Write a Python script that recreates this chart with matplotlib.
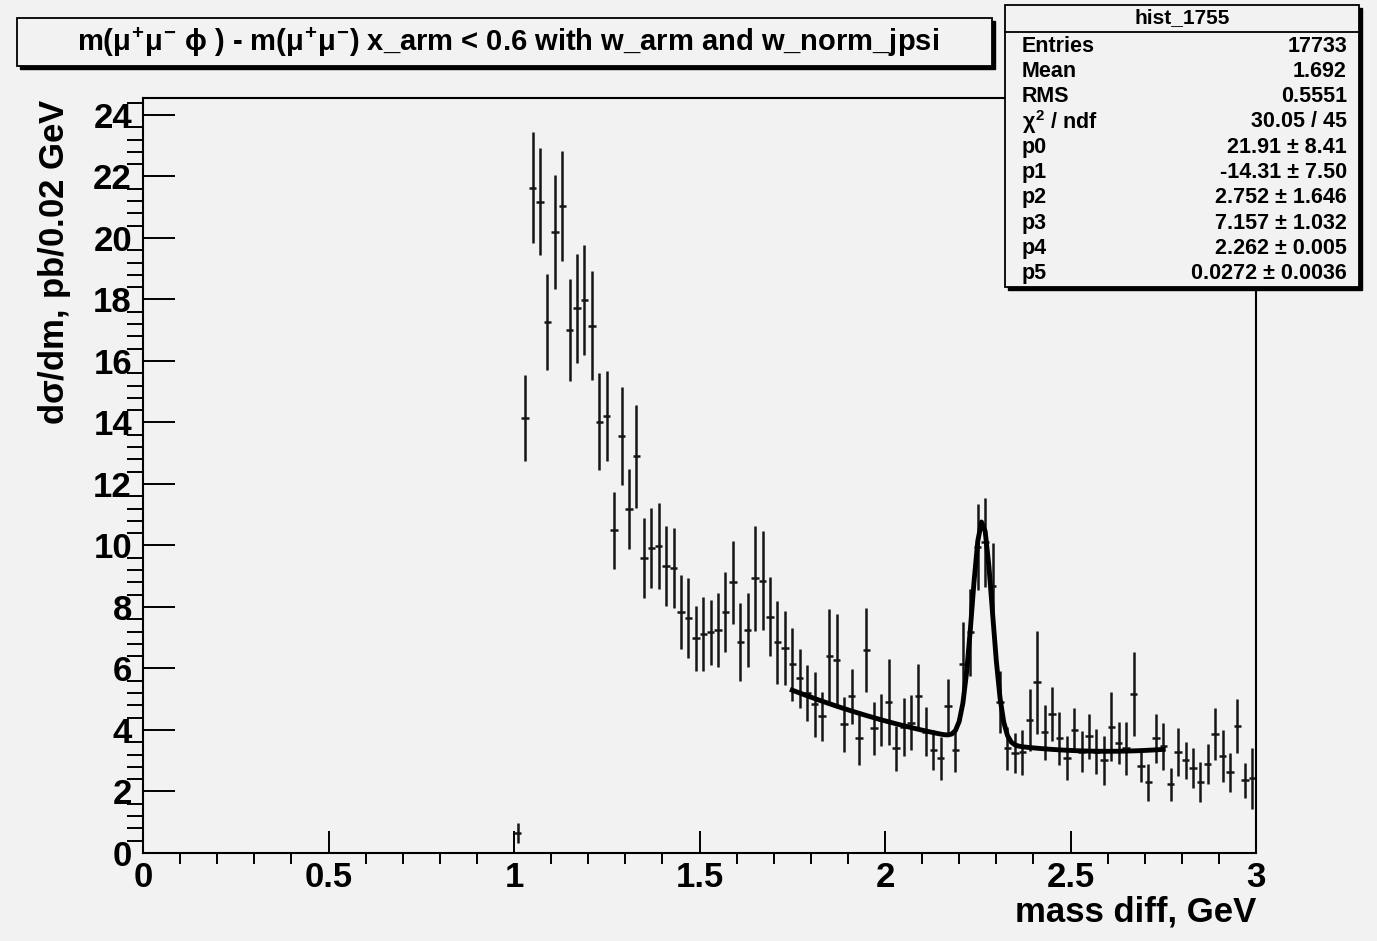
import matplotlib
matplotlib.use("Agg")
import matplotlib.pyplot as plt
from matplotlib.patches import Rectangle
from matplotlib.ticker import MultipleLocator, FuncFormatter
import numpy as np

# histogram: 0.02 GeV bins, only the filled range 1.00 - 3.00 is drawn
bin_width = 0.02
bin_centres = [round(1.01 + bin_width * i, 2) for i in range(100)]
counts = [
    0.65, 14.15, 21.63, 21.18, 17.27, 20.2, 21.04, 17.0, 17.71, 17.98,
    17.14, 14.02, 14.21, 10.5, 13.56, 11.2, 12.9, 9.58, 9.91, 9.97,
    9.33, 9.28, 7.83, 7.63, 6.98, 7.11, 7.17, 7.24, 7.83, 8.8,
    6.85, 7.24, 8.93, 8.86, 7.69, 6.85, 6.66, 6.13, 5.68, 5.2,
    4.83, 4.44, 6.4, 6.26, 4.18, 5.09, 3.73, 6.59, 4.05, 4.33,
    4.9, 3.4, 4.1, 4.24, 5.09, 3.94, 3.34, 3.08, 4.77, 3.34,
    6.15, 7.17, 9.96, 10.1, 8.68, 4.91, 3.4, 3.24, 3.27, 4.33,
    5.55, 3.92, 4.51, 3.73, 3.08, 4.0, 3.3, 3.79, 3.3, 3.02,
    4.11, 3.59, 3.4, 5.16, 2.83, 2.3, 3.73, 3.47, 2.23, 3.27,
    3.02, 2.75, 2.3, 2.88, 3.86, 3.15, 2.62, 4.13, 2.36, 2.43,
]
errors = [
    0.33, 1.4, 1.8, 1.75, 1.55, 1.85, 1.8, 1.65, 1.78, 1.8,
    1.77, 1.58, 1.45, 1.25, 1.6, 1.3, 1.68, 1.3, 1.3, 1.4,
    1.3, 1.3, 1.2, 1.3, 1.05, 1.2, 1.07, 1.2, 1.3, 1.35,
    1.27, 1.2, 1.7, 1.6, 1.27, 1.35, 1.2, 1.2, 0.95, 0.9,
    1.07, 0.8, 1.53, 1.5, 0.9, 0.9, 0.88, 1.37, 0.85, 0.85,
    1.4, 0.72, 0.95, 0.9, 1.06, 0.8, 0.65, 0.7, 0.9, 0.7,
    1.35, 1.4, 1.4, 1.45, 1.4, 1.0, 0.7, 0.65, 0.73, 1.0,
    1.68, 0.9, 0.88, 0.87, 0.72, 0.72, 0.68, 0.73, 0.72, 0.8,
    1.12, 0.68, 0.85, 1.37, 0.52, 0.6, 0.8, 0.77, 0.55, 0.78,
    0.6, 0.65, 0.65, 0.65, 0.85, 0.84, 0.63, 0.87, 0.58, 1.0,
]

# fit: pol2 + gaus, parameters as printed in the stats box
fit_params = [21.91, -14.31, 2.752, 7.157, 2.262, 0.0272]
fit_range = (1.75, 2.75)

stat_names = ["Entries", "Mean", "RMS", r"$\chi^{2}$ / ndf",
              "p0", "p1", "p2", "p3", "p4", "p5"]
stat_values = ["17733", "1.692", "0.5551", "30.05 / 45",
               "21.91 ± 8.41", "-14.31 ± 7.50", "2.752 ± 1.646",
               "7.157 ± 1.032", "2.262 ± 0.005", "0.0272 ± 0.0036"]

title = (r"m($\mu^{+}\mu^{\mathrm{-}}$ $\phi$ ) - m($\mu^{+}\mu^{\mathrm{-}}$) "
         "x_arm < 0.6 with w_arm and w_norm_jpsi")

BG = "#f2f2f2"
W, H = 1377, 941

plt.rcParams["font.family"] = ["Liberation Sans", "DejaVu Sans"]
plt.rcParams["font.weight"] = "bold"
plt.rcParams["mathtext.fontset"] = "custom"
plt.rcParams["mathtext.rm"] = "Liberation Sans:bold"
plt.rcParams["mathtext.it"] = "Liberation Sans:bold"
plt.rcParams["mathtext.bf"] = "Liberation Sans:bold"

fig = plt.figure(figsize=(W / 100, H / 100), dpi=100, facecolor=BG)
ax = fig.add_axes([143 / W, 1 - 853 / H, (1256 - 143) / W, (853 - 98) / H])
ax.set_facecolor(BG)

ax.errorbar(bin_centres, counts, yerr=errors, xerr=bin_width / 2, fmt="none",
            ecolor="#151515", elinewidth=1.8, capsize=0)

p0, p1, p2, p3, p4, p5 = fit_params
xf = np.linspace(fit_range[0], fit_range[1], 101)
yf = p0 + p1 * xf + p2 * xf ** 2 + p3 * np.exp(-0.5 * ((xf - p4) / p5) ** 2)
ax.plot(xf, yf, color="black", lw=3.5)

ax.set_xlim(0, 3)
ax.set_ylim(0, 24.55)
ax.xaxis.set_major_locator(MultipleLocator(0.5))
ax.xaxis.set_minor_locator(MultipleLocator(0.1))
ax.yaxis.set_major_locator(MultipleLocator(2))
ax.yaxis.set_minor_locator(MultipleLocator(0.4))
ax.xaxis.set_major_formatter(FuncFormatter(lambda v, _: f"{v:g}"))
ax.yaxis.set_major_formatter(FuncFormatter(lambda v, _: f"{v:g}"))
ax.tick_params(direction="in", top=False, right=False, labelsize=25, width=1.4)
ax.tick_params(axis="x", which="major", length=16, pad=6)
ax.tick_params(axis="x", which="minor", length=8, width=1.4)
ax.tick_params(axis="y", which="major", length=23, pad=8)
ax.tick_params(axis="y", which="minor", length=11.5, width=1.4)
for s in ax.spines.values():
    s.set_linewidth(1.5)

fig.text(1256 / W, 1 - 912 / H, "mass diff, GeV", ha="right", va="center",
         fontsize=25)
fig.text(55 / W, 1 - 98 / H, r"d$\sigma$/dm, pb/0.02 GeV", rotation=90,
         ha="center", va="top", fontsize=25)


def box(x0, y0, x1, y1):
    """ROOT-style pave with a shadow, given in pixel coords from top-left."""
    fx, fy = x0 / W, 1 - y1 / H
    fw, fh = (x1 - x0) / W, (y1 - y0) / H
    fig.patches.append(Rectangle((fx + 3 / W, fy - 3 / H), fw, fh,
                                 transform=fig.transFigure, facecolor="black",
                                 edgecolor="black", zorder=5))
    fig.patches.append(Rectangle((fx, fy), fw, fh, transform=fig.transFigure,
                                 facecolor=BG, edgecolor="black", lw=1.3,
                                 zorder=6))


box(17, 18, 992, 66)
fig.text(508 / W, 1 - 42 / H, title, ha="center", va="center", fontsize=21,
         zorder=7)

box(1005, 5, 1359, 287)
fig.add_artist(plt.Line2D([1005 / W, 1359 / W], [1 - 32 / H, 1 - 32 / H],
                          transform=fig.transFigure, color="black", lw=1.3,
                          zorder=7))
fig.text(1182 / W, 1 - 18 / H, "hist_1755", ha="center", va="center",
         fontsize=15, zorder=7)
for i, (name, val) in enumerate(zip(stat_names, stat_values)):
    yy = 1 - (46 + 25.3 * i) / H
    fig.text(1022 / W, yy, name, ha="left", va="center", fontsize=15.5, zorder=7)
    fig.text(1347 / W, yy, val, ha="right", va="center", fontsize=15.5, zorder=7)

fig.savefig("out.png", dpi=100, facecolor=BG)
